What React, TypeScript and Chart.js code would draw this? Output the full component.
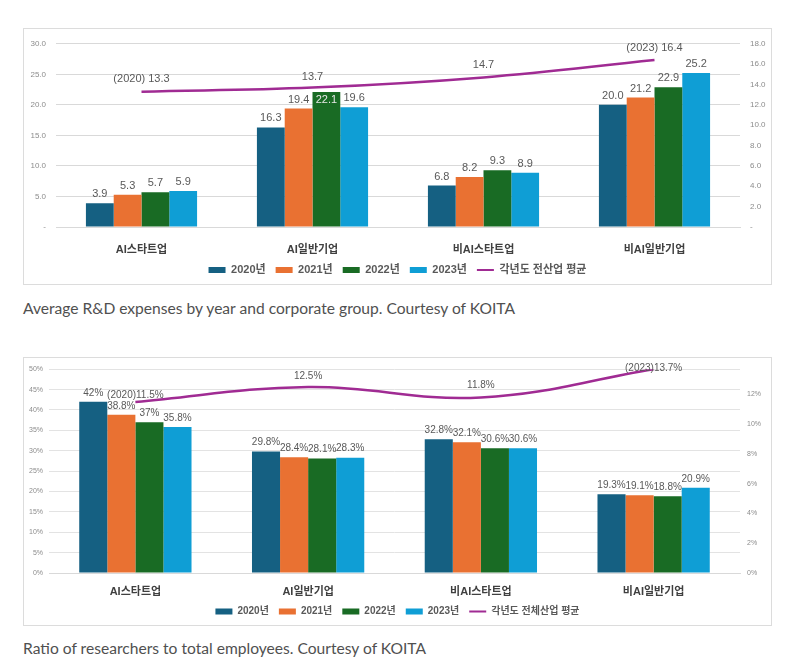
import React, { useEffect, useRef } from "react";
import { Chart, registerables } from "chart.js";

Chart.register(...registerables);

const groups = ["AI스타트업", "AI일반기업", "비AI스타트업", "비AI일반기업"];
const years = ["2020년", "2021년", "2022년", "2023년"];
const barColors = ["#156082", "#E97132", "#196B24", "#0F9ED5"];
const lineColor = "#A02B93";

// chart 1: average R&D expenses
const rd2020 = [3.9, 16.3, 6.8, 20.0];
const rd2021 = [5.3, 19.4, 8.2, 21.2];
const rd2022 = [5.7, 22.1, 9.3, 22.9];
const rd2023 = [5.9, 19.6, 8.9, 25.2];
const rdAllIndustry = [13.3, 13.7, 14.7, 16.4];
const rdAllIndustryLabels = ["(2020) 13.3", "13.7", "14.7", "(2023) 16.4"];
const rdLineName = "각년도 전산업 평균";

// chart 2: researchers / total employees (%)
const ratio2020 = [42, 29.8, 32.8, 19.3];
const ratio2021 = [38.8, 28.4, 32.1, 19.1];
const ratio2022 = [37, 28.1, 30.6, 18.8];
const ratio2023 = [35.8, 28.3, 30.6, 20.9];
const ratioAllIndustry = [11.5, 12.5, 11.8, 13.7];
const ratioAllIndustryLabels = ["(2020)11.5%", "12.5%", "11.8%", "(2023)13.7%"];
const ratioLineName = "각년도 전체산업 평균";

const FONT = "'Liberation Sans', 'Noto Sans CJK KR', sans-serif";

interface LabelCfg {
  barText: (v: number) => string;
  lineText: string[];
  lineOffsets: number[];
  inside: Array<[number, number]>;
  size: number;
}

const makeLabels = (cfg: LabelCfg) => ({
  id: "valueLabels",
  afterDatasetsDraw(chart: any) {
    const ctx = chart.ctx;
    ctx.save();
    ctx.font = `${cfg.size}px ${FONT}`;
    ctx.textAlign = "center";
    ctx.textBaseline = "middle";
    chart.data.datasets.forEach((ds: any, i: number) => {
      const meta = chart.getDatasetMeta(i);
      meta.data.forEach((el: any, j: number) => {
        const v = ds.data[j] as number;
        if (ds.type === "line") {
          ctx.fillStyle = "#595959";
          ctx.fillText(cfg.lineText[j], el.x, el.y - cfg.lineOffsets[j]);
        } else {
          const inside = cfg.inside.some(([a, b]) => a === i && b === j);
          ctx.fillStyle = inside ? "#e8e8e8" : "#595959";
          ctx.fillText(cfg.barText(v), el.x, inside ? el.y + 8 : el.y - 9);
        }
      });
    });
    ctx.restore();
  },
});

const legendLabels = (size: number) => ({
  usePointStyle: true,
  pointStyleWidth: 17,
  boxHeight: 6,
  padding: 10,
  color: "#595959",
  font: { family: FONT, size, weight: "bold" as const },
  sort: (a: any, b: any) => a.datasetIndex - b.datasetIndex,
  generateLabels: (chart: any) =>
    Chart.defaults.plugins.legend.labels.generateLabels(chart).map((l: any) => {
      const isLine = chart.data.datasets[l.datasetIndex].type === "line";
      return { ...l, pointStyle: isLine ? "line" : "rect", lineWidth: isLine ? 2 : 0 };
    }),
});

const barSets = (rows: number[][]) =>
  rows.map((data, k) => ({
    type: "bar" as const,
    label: years[k],
    data,
    backgroundColor: barColors[k],
    borderWidth: 0,
    categoryPercentage: 0.65,
    barPercentage: 1,
    yAxisID: "y",
    order: 1,
  }));

const lineSet = (label: string, data: number[]) => ({
  type: "line" as const,
  label,
  data,
  borderColor: lineColor,
  backgroundColor: lineColor,
  borderWidth: 2.5,
  pointRadius: 0,
  tension: 0.4,
  yAxisID: "y1",
  order: 0,
});

const RdChart = () => {
  const ref = useRef<HTMLCanvasElement>(null);
  useEffect(() => {
    const chart = new Chart(ref.current!, {
      type: "bar",
      data: {
        labels: groups,
        datasets: [...barSets([rd2020, rd2021, rd2022, rd2023]), lineSet(rdLineName, rdAllIndustry)] as any,
      },
      options: {
        animation: false,
        responsive: true,
        maintainAspectRatio: false,
        layout: { padding: { top: 9, left: 0, right: 0, bottom: -1.5 } },
        plugins: {
          legend: { position: "bottom", labels: legendLabels(11) as any },
          tooltip: { enabled: false },
        },
        scales: {
          x: {
            grid: { display: false, drawTicks: false },
            border: { color: "#d9d9d9" },
            ticks: { color: "#404040", font: { family: FONT, size: 11, weight: "bold" }, padding: 16 },
            afterFit: (s: any) => { s.height = 27.5; },
          },
          y: {
            position: "left",
            min: 0,
            max: 30,
            ticks: {
              stepSize: 5,
              color: "#8c8c8c",
              font: { family: FONT, size: 8 },
              padding: 10,
              callback: (v: any) => (v === 0 ? "-" : Number(v).toFixed(1)),
            },
            grid: { color: "#d9d9d9", drawTicks: false },
            border: { display: false },
            afterFit: (s: any) => { s.width = 32; },
          },
          y1: {
            position: "right",
            min: 0,
            max: 18,
            ticks: {
              stepSize: 2,
              color: "#8c8c8c",
              font: { family: FONT, size: 8 },
              padding: 10,
              callback: (v: any) => (v === 0 ? "-" : Number(v).toFixed(1)),
            },
            grid: { display: false, drawTicks: false },
            border: { display: false },
            afterFit: (s: any) => { s.width = 31; },
          },
        },
      },
      plugins: [
        makeLabels({
          barText: (v) => v.toFixed(1),
          lineText: rdAllIndustryLabels,
          lineOffsets: [13, 11, 12, 12],
          inside: [[2, 1]],
          size: 11,
        }),
      ],
    });
    return () => chart.destroy();
  }, []);
  return <canvas ref={ref} />;
};

const RatioChart = () => {
  const ref = useRef<HTMLCanvasElement>(null);
  useEffect(() => {
    const chart = new Chart(ref.current!, {
      type: "bar",
      data: {
        labels: groups,
        datasets: [
          ...barSets([ratio2020, ratio2021, ratio2022, ratio2023]),
          lineSet(ratioLineName, ratioAllIndustry),
        ] as any,
      },
      options: {
        animation: false,
        responsive: true,
        maintainAspectRatio: false,
        layout: { padding: { top: 8, left: 0, right: 0, bottom: -1.5 } },
        plugins: {
          legend: { position: "bottom", labels: legendLabels(10) as any },
          tooltip: { enabled: false },
        },
        scales: {
          x: {
            grid: { display: false, drawTicks: false },
            border: { color: "#d9d9d9" },
            ticks: { color: "#404040", font: { family: FONT, size: 11, weight: "bold" }, padding: 12 },
            afterFit: (s: any) => { s.height = 23.5; },
          },
          y: {
            position: "left",
            min: 0,
            max: 50,
            ticks: {
              stepSize: 5,
              color: "#8c8c8c",
              font: { family: FONT, size: 7 },
              padding: 6,
              callback: (v: any) => `${v}%`,
            },
            grid: { color: "#e3e3e3", drawTicks: false },
            border: { display: false },
            afterFit: (s: any) => { s.width = 25; },
          },
          y1: {
            position: "right",
            min: 0,
            max: 13.7,
            ticks: {
              stepSize: 2,
              color: "#8c8c8c",
              font: { family: FONT, size: 7 },
              padding: 7,
              callback: (v: any) => (Number(v) % 2 === 0 ? `${v}%` : ""),
            },
            grid: { display: false, drawTicks: false },
            border: { display: false },
            afterFit: (s: any) => { s.width = 31; },
          },
        },
      },
      plugins: [
        makeLabels({
          barText: (v) => `${v}%`,
          lineText: ratioAllIndustryLabels,
          lineOffsets: [7, 11, 12, 1],
          inside: [],
          size: 10,
        }),
      ],
    });
    return () => chart.destroy();
  }, []);
  return <canvas ref={ref} />;
};

const box = (top: number, height: number): React.CSSProperties => ({
  position: "absolute",
  left: 23,
  top,
  width: 747,
  height,
  border: "1px solid #dcdcdc",
  background: "#fff",
});

const caption = (top: number): React.CSSProperties => ({
  position: "absolute",
  left: 23,
  top,
  margin: 0,
  fontFamily: "Lato, 'Noto Sans', sans-serif",
  fontSize: 15.6,
  lineHeight: "20px",
  color: "#505050",
  whiteSpace: "nowrap",
});

export default function App() {
  return (
    <div>
      <div style={box(28, 255)}>
        <RdChart />
      </div>
      <p style={caption(298)}>Average R&amp;D expenses by year and corporate group. Courtesy of KOITA</p>
      <div style={box(357, 267)}>
        <RatioChart />
      </div>
      <p style={caption(638)}>Ratio of researchers to total employees. Courtesy of KOITA</p>
    </div>
  );
}
